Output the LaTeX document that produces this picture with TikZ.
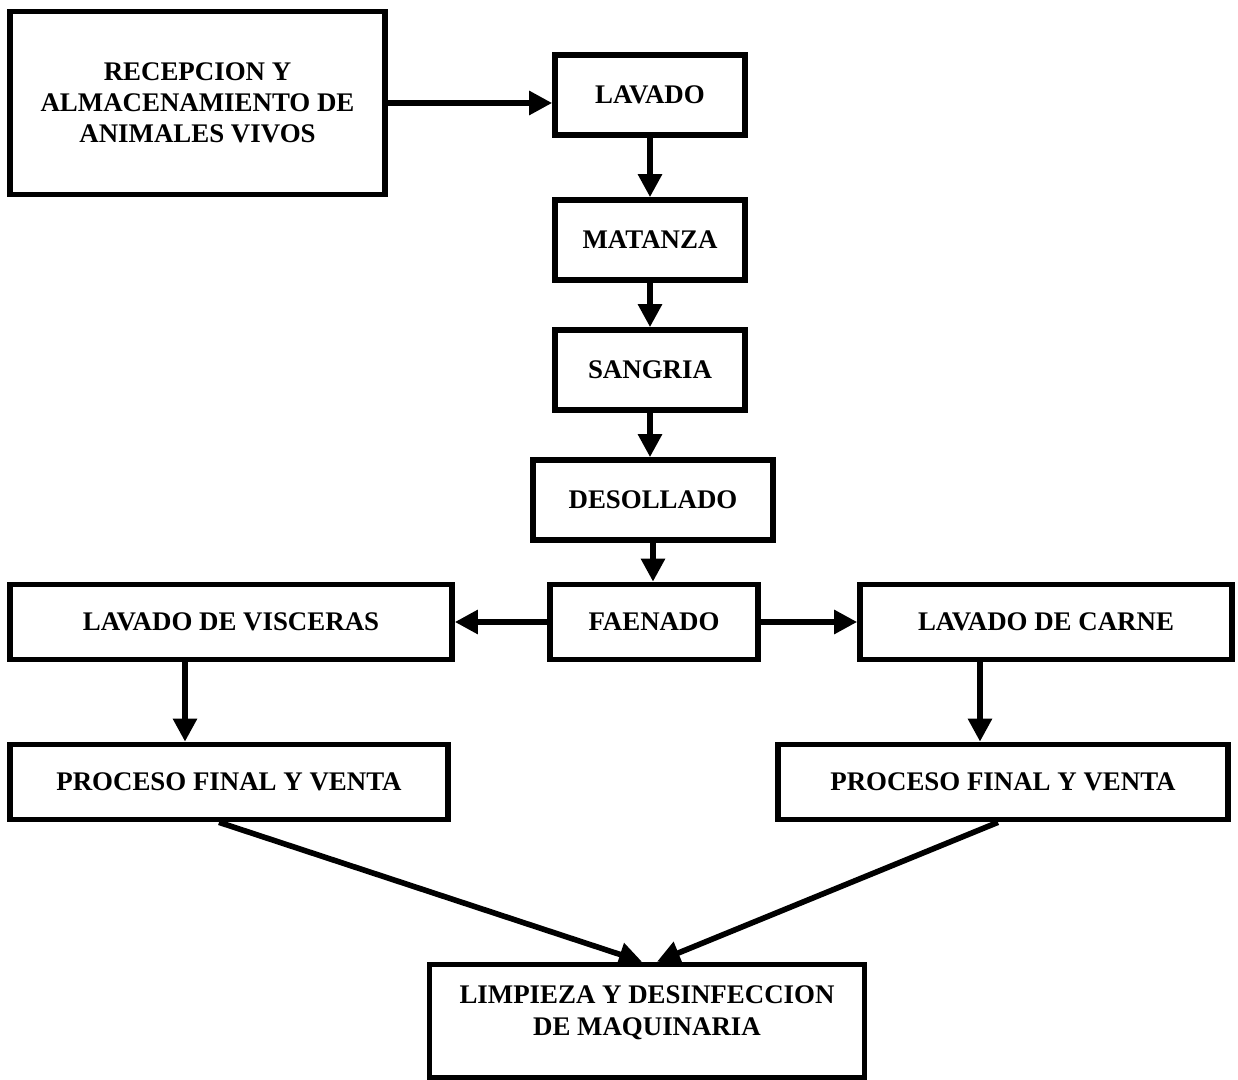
\documentclass[tikz,border=0pt]{standalone}
\usepackage{fontspec}
\setmainfont{Liberation Serif}
\usetikzlibrary{arrows.meta}

\begin{document}
\begin{tikzpicture}[
  paso/.style={draw, line width=3.2pt, align=center, inner sep=0pt,
    font=\bfseries\fontsize{15.3}{17.8}\selectfont},
  flecha/.style={line width=3.2pt, -{Triangle[length=0.46cm, width=0.46cm]}}]
\useasboundingbox (0,0) rectangle (24.76,-21.6);
% columna central
\node[paso, minimum width=7.5cm, minimum height=3.66cm] (rec) at (3.95,-2.06) {RECEPCION Y\\ALMACENAMIENTO DE\\ANIMALES VIVOS};
\node[paso, minimum width=3.8cm, minimum height=1.6cm] (lav) at (13.0,-1.9) {LAVADO};
\node[paso, minimum width=3.8cm, minimum height=1.6cm] (mat) at (13.0,-4.8) {MATANZA};
\node[paso, minimum width=3.8cm, minimum height=1.6cm] (san) at (13.0,-7.4) {SANGRIA};
\node[paso, minimum width=4.8cm, minimum height=1.6cm] (des) at (13.06,-10.0) {DESOLLADO};
\node[paso, minimum width=4.16cm, minimum height=1.5cm] (fae) at (13.08,-12.44) {FAENADO};
% ramas
\node[paso, minimum width=8.84cm, minimum height=1.5cm] (vis) at (4.62,-12.44) {LAVADO DE VISCERAS};
\node[paso, minimum width=7.44cm, minimum height=1.5cm] (car) at (20.92,-12.44) {LAVADO DE CARNE};
\node[paso, minimum width=8.76cm, minimum height=1.5cm] (pfl) at (4.58,-15.64) {PROCESO FINAL Y VENTA};
\node[paso, minimum width=9.0cm, minimum height=1.5cm] (pfr) at (20.06,-15.64) {PROCESO FINAL Y VENTA};
\node[paso, minimum width=8.7cm, minimum height=2.26cm] (lim) at (12.94,-20.42) {LIMPIEZA Y DESINFECCION\\DE MAQUINARIA\\[-6pt]\mbox{}};

\draw[flecha] (rec.east) -- (rec.east -| lav.west);
\draw[flecha] (lav) -- (mat);
\draw[flecha] (mat) -- (san);
\draw[flecha] (san.south) -- (san.south |- des.north);
\draw[flecha] (des.south) -- (des.south |- fae.north);
\draw[flecha] (fae) -- (vis);
\draw[flecha] (fae) -- (car);
\coordinate (v1) at ([xshift=-0.92cm]vis.south);
\coordinate (c1) at ([xshift=-1.32cm]car.south);
\draw[flecha] (v1) -- (v1 |- pfl.north);
\draw[flecha] (c1) -- (c1 |- pfr.north);
\draw[flecha] ([xshift=-0.2cm]pfl.south) -- ([xshift=-0.1cm]lim.north);
\draw[flecha] ([xshift=-0.1cm]pfr.south) -- ([xshift=0.2cm]lim.north);
\end{tikzpicture}
\end{document}
